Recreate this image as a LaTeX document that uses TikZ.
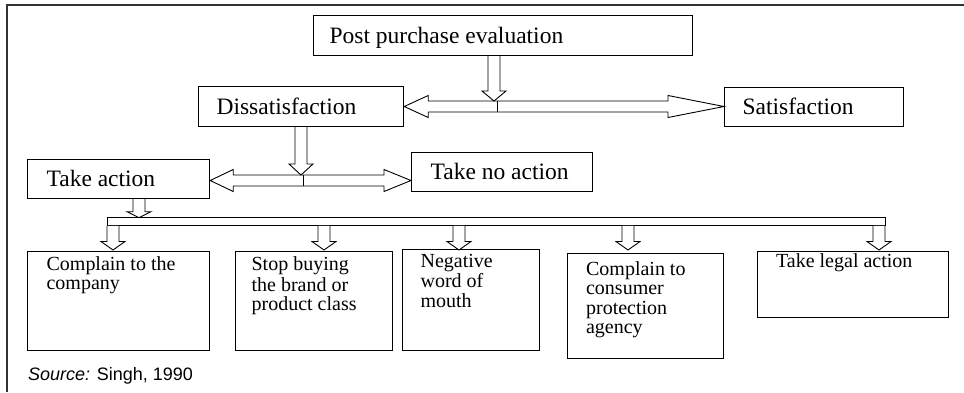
\documentclass[tikz,border=0pt]{standalone}
\usepackage{fontspec}
\setmainfont{Liberation Serif}
\newfontfamily\srcfont{Liberation Sans}
\usetikzlibrary{calc}

\newcommand{\upperfont}{\fontsize{23.5}{26}\selectfont}
\newcommand{\lowerfont}{\fontsize{20}{19.5}\selectfont}
% width, height, left pad, top pad, text
\newcommand{\boxtxt}[5]{\parbox[c][#2][t]{#1}{\raggedright\leftskip=#3\relax\vspace*{#4}\strut#5}}
% hollow down arrow: #1 start (y), #2 tip, #3 head length
\newcommand{\hollowdown}[3]{%
  \draw[fat] let \p1=(#1), \p2=(#2) in
    (\x2-6pt,\y1) -- (\x2-6pt,\y2+#3) -- (\x2-12pt,\y2+#3) -- (\x2,\y2)
    -- (\x2+12pt,\y2+#3) -- (\x2+6pt,\y2+#3) -- (\x2+6pt,\y1);}
% hollow double arrow: #1 left tip, #2 right tip, #3 junction (y), #4 left head, #5 right head
\newcommand{\hollowboth}[5]{%
  \draw[fat] let \p1=(#1), \p2=(#2), \p3=(#3) in
    (\x1,\y3) -- (\x1+#4,\y3+11pt) -- (\x1+#4,\y3+5.5pt) -- (\x2-#5,\y3+5.5pt)
    -- (\x2-#5,\y3+11pt) -- (\x2,\y3) -- (\x2-#5,\y3-11pt) -- (\x2-#5,\y3-5.5pt)
    -- (\x1+#4,\y3-5.5pt) -- (\x1+#4,\y3-11pt) -- cycle;}

\begin{document}
\begin{tikzpicture}[x=1pt,y=-1pt,
  box/.style={draw=black, line width=1.2pt, inner sep=0pt, anchor=north west},
  fat/.style={draw=black, line width=0.9pt, fill=white, line join=miter},
  frame/.style={draw=black!80, line width=2pt}]
\useasboundingbox (0,0) rectangle (964,392);

% frame
\draw[frame] (7,392) -- (7,5) -- (964,5);

% upper boxes
\node[box, font=\upperfont] (ppe) at (313,15) {\boxtxt{379pt}{40pt}{16pt}{9.3pt}{Post purchase evaluation}};
\node[box, font=\upperfont] (dis) at (198,86) {\boxtxt{205pt}{40pt}{18pt}{9.3pt}{Dissatisfaction}};
\node[box, font=\upperfont] (sat) at (724,87) {\boxtxt{179pt}{39pt}{18pt}{8.8pt}{Satisfaction}};
\node[box, font=\upperfont] (ta) at (27,159) {\boxtxt{182pt}{39pt}{19pt}{8.8pt}{Take action}};
\node[box, font=\upperfont] (tna) at (411,152) {\boxtxt{181pt}{39pt}{19pt}{8.8pt}{Take no action}};

% bottom boxes
\node[box, font=\lowerfont] (b1) at (27,251) {\boxtxt{182pt}{99pt}{19pt}{4.8pt}{Complain to the\\company}};
\node[box, font=\lowerfont] (b2) at (235,251) {\boxtxt{157pt}{99pt}{16pt}{4.8pt}{Stop buying\\the brand or\\product class}};
\node[box, font=\lowerfont] (b3) at (402,249) {\boxtxt{137pt}{101pt}{18pt}{3.8pt}{Negative\\word of\\mouth}};
\node[box, font=\lowerfont] (b4) at (567,253) {\boxtxt{156pt}{105pt}{18.5pt}{7.8pt}{Complain to\\consumer\\protection\\agency}};
\node[box, font=\lowerfont] (b5) at (757,251) {\boxtxt{191pt}{66pt}{18.5pt}{1.8pt}{Take legal action}};

% first split
\coordinate (j1) at (494,106.5);
\hollowboth{dis.east}{sat.west}{j1}{24pt}{56pt}
\hollowdown{ppe.south}{$(j1)+(0,-5.5)$}{10pt}
\draw[line width=0.9pt] ($(j1)+(3,-5.5)$) -- ($(j1)+(3,5.5)$);

% second split
\coordinate (j2) at (301,180.5);
\hollowboth{ta.east}{tna.west}{j2}{23pt}{27pt}
\hollowdown{dis.south}{$(j2)+(0,-5.5)$}{11pt}
\draw[line width=0.9pt] ($(j2)+(2.5,-5.5)$) -- ($(j2)+(2.5,5.5)$);

% bar
\node[fat, anchor=north west, minimum width=778pt, minimum height=8pt, inner sep=0pt] (bar) at (107,217) {};
\hollowdown{ta.south}{$(ta.south west)+(112,18.5)$}{6pt}

\hollowdown{bar.south}{$(b1.north west)+(86,-1)$}{8.5pt}
\hollowdown{bar.south}{$(b2.north west)+(89,-1)$}{8.5pt}
\hollowdown{bar.south}{$(b3.north west)+(57,1)$}{8.5pt}
\hollowdown{bar.south}{$(b4.north west)+(61,-3)$}{8.5pt}
\hollowdown{bar.south}{$(b5.north west)+(122,-1)$}{8.5pt}

% source
\node[anchor=base west, font=\srcfont\fontsize{18}{20}\selectfont, inner sep=0pt] (src) at (28,380) {\textit{Source:} Singh, 1990};
\end{tikzpicture}
\end{document}
